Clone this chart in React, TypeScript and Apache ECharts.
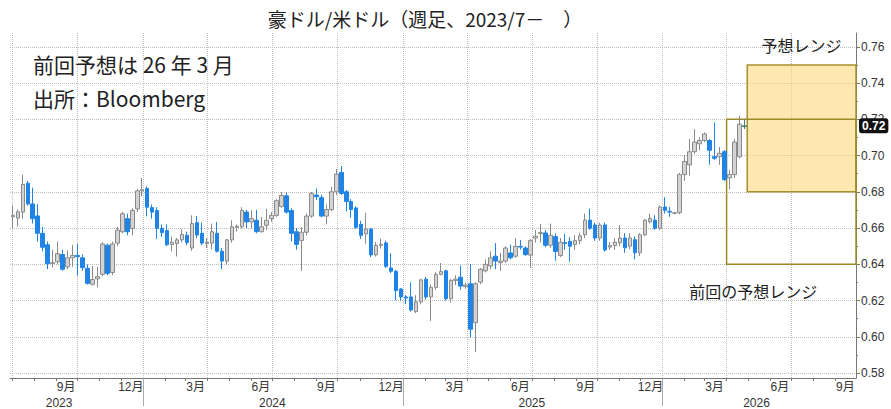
import React, { useEffect, useRef } from "react";
import * as echarts from "echarts";

const TITLE = "豪ドル/米ドル（週足、2023/7－　）";
const NOTE_1 = "前回予想は 26 年 3 月";
const NOTE_2 = "出所：Bloomberg";

// weekly candles, first week ends 2023-06-30
const FIRST_WEEK = Date.UTC(2023, 6, 2);
const WEEK_MS = 7 * 24 * 3600 * 1000;

const opens = [
  0.6662, 0.6655, 0.6688, 0.6847, 0.6733, 0.6667, 0.6571, 0.6508, 0.6404, 0.6414,
  0.6454, 0.6386, 0.6436, 0.6449, 0.6436, 0.6378, 0.629, 0.632, 0.6345, 0.6505,
  0.6355, 0.6517, 0.658, 0.6652, 0.6598, 0.6706, 0.6805, 0.6818, 0.6713, 0.6697,
  0.6598, 0.6586, 0.651, 0.6515, 0.6535, 0.656, 0.649, 0.663, 0.6571, 0.6515,
  0.6517, 0.6571, 0.6472, 0.6418, 0.6535, 0.6604, 0.6607, 0.6688, 0.6634, 0.6643,
  0.658, 0.6616, 0.6652, 0.667, 0.672, 0.6778, 0.6697, 0.658, 0.6532, 0.6577,
  0.6666, 0.6782, 0.6768, 0.6666, 0.6702, 0.68, 0.6907, 0.68, 0.6746, 0.6711,
  0.6621, 0.6568, 0.6595, 0.6452, 0.6505, 0.6518, 0.638, 0.6362, 0.6264, 0.622,
  0.622, 0.6139, 0.6193, 0.6318, 0.622, 0.6273, 0.6345, 0.6364, 0.621, 0.6311,
  0.6329, 0.6278, 0.6293, 0.6078, 0.6302, 0.6364, 0.6391, 0.6445, 0.6409, 0.6418,
  0.6463, 0.6445, 0.6499, 0.649, 0.6451, 0.6545, 0.657, 0.6573, 0.6505, 0.6553,
  0.6449, 0.652, 0.6527, 0.6509, 0.6531, 0.6563, 0.6644, 0.6617, 0.6545, 0.6617,
  0.6495, 0.6504, 0.6518, 0.6545, 0.65, 0.6536, 0.6464, 0.6563, 0.6635, 0.6644,
  0.6599, 0.6716, 0.6692, 0.6682, 0.6685, 0.6895, 0.6949, 0.7021, 0.7065, 0.7083,
  0.7083, 0.6994, 0.6994, 0.7021, 0.6877, 0.6895, 0.6994, 0.716,
];
const closes = [
  0.667, 0.669, 0.6841, 0.6733, 0.6652, 0.6571, 0.6494, 0.6404, 0.6409, 0.6459,
  0.6373, 0.6436, 0.6449, 0.6443, 0.6382, 0.6295, 0.6316, 0.6332, 0.6512, 0.635,
  0.6512, 0.6589, 0.6679, 0.658, 0.6697, 0.6805, 0.6811, 0.6715, 0.6688, 0.6598,
  0.6575, 0.6508, 0.6522, 0.6535, 0.6565, 0.652, 0.6625, 0.6562, 0.6517, 0.6522,
  0.658, 0.6472, 0.6418, 0.6535, 0.6607, 0.661, 0.6697, 0.6634, 0.6652, 0.658,
  0.6607, 0.6643, 0.667, 0.6751, 0.678, 0.6688, 0.6571, 0.651, 0.6577, 0.6666,
  0.6791, 0.6773, 0.6666, 0.6702, 0.68, 0.6898, 0.6791, 0.6746, 0.6702, 0.6604,
  0.656, 0.6595, 0.6452, 0.6505, 0.651, 0.6389, 0.6362, 0.6255, 0.622, 0.6214,
  0.6148, 0.6193, 0.6314, 0.622, 0.6273, 0.6345, 0.636, 0.621, 0.6311, 0.6318,
  0.628, 0.6286, 0.6042, 0.6293, 0.6373, 0.64, 0.6436, 0.6418, 0.6418, 0.649,
  0.6436, 0.6499, 0.6495, 0.6454, 0.6531, 0.6555, 0.6575, 0.6505, 0.656, 0.6471,
  0.6522, 0.6515, 0.65, 0.6531, 0.6558, 0.6644, 0.6599, 0.6545, 0.6617, 0.6479,
  0.6504, 0.6522, 0.6545, 0.6491, 0.6545, 0.6464, 0.6563, 0.6644, 0.6653, 0.6599,
  0.6716, 0.6698, 0.6688, 0.6684, 0.6895, 0.6967, 0.7021, 0.7074, 0.7083, 0.7119,
  0.7029, 0.6985, 0.7012, 0.6868, 0.6895, 0.7074, 0.7173, 0.7164,
];
const lows = [
  0.66, 0.6607, 0.6652, 0.6724, 0.6625, 0.6526, 0.6472, 0.6373, 0.6382, 0.64,
  0.6364, 0.6373, 0.6386, 0.6337, 0.6364, 0.6288, 0.6283, 0.6274, 0.6335, 0.634,
  0.634, 0.65, 0.657, 0.656, 0.656, 0.669, 0.6775, 0.6665, 0.6652, 0.654,
  0.655, 0.65, 0.6472, 0.6443, 0.652, 0.6505, 0.6475, 0.6545, 0.6505, 0.649,
  0.6481, 0.6465, 0.6373, 0.64, 0.652, 0.658, 0.6598, 0.66, 0.6598, 0.6571,
  0.6575, 0.6589, 0.6634, 0.6661, 0.671, 0.668, 0.6526, 0.6481, 0.6363, 0.656,
  0.6657, 0.6755, 0.666, 0.6621, 0.6693, 0.6782, 0.6782, 0.6693, 0.6657, 0.6596,
  0.654, 0.6514, 0.644, 0.6443, 0.6487, 0.638, 0.6352, 0.6202, 0.62, 0.618,
  0.6139, 0.6131, 0.618, 0.6205, 0.6088, 0.626, 0.634, 0.62, 0.619, 0.6285,
  0.626, 0.6265, 0.5997, 0.5916, 0.629, 0.6355, 0.6373, 0.6373, 0.6364, 0.6409,
  0.6427, 0.6436, 0.6481, 0.6445, 0.6379, 0.652, 0.652, 0.6495, 0.649, 0.642,
  0.644, 0.648, 0.6415, 0.648, 0.651, 0.6545, 0.659, 0.653, 0.653, 0.647,
  0.648, 0.648, 0.65, 0.6464, 0.6482, 0.6428, 0.6446, 0.6555, 0.6626, 0.659,
  0.659, 0.668, 0.6662, 0.6676, 0.6676, 0.686, 0.689, 0.701, 0.7029, 0.7074,
  0.6949, 0.6976, 0.6949, 0.6859, 0.6814, 0.6877, 0.6985, 0.7146,
];
const highs = [
  0.6722, 0.6703, 0.6895, 0.6859, 0.6823, 0.6733, 0.6607, 0.6526, 0.6481, 0.6526,
  0.6481, 0.6476, 0.6508, 0.6512, 0.6454, 0.64, 0.6391, 0.6386, 0.6522, 0.6515,
  0.6525, 0.6607, 0.669, 0.668, 0.671, 0.6815, 0.6877, 0.683, 0.673, 0.6715,
  0.662, 0.662, 0.6553, 0.6545, 0.6595, 0.658, 0.667, 0.6667, 0.663, 0.6545,
  0.6625, 0.6634, 0.649, 0.654, 0.6643, 0.662, 0.6715, 0.67, 0.6697, 0.67,
  0.6661, 0.6706, 0.6688, 0.676, 0.6798, 0.6798, 0.671, 0.66, 0.6604, 0.668,
  0.68, 0.6818, 0.6785, 0.673, 0.6827, 0.6925, 0.6943, 0.681, 0.676, 0.672,
  0.664, 0.6684, 0.66, 0.6523, 0.6541, 0.653, 0.6461, 0.637, 0.627, 0.623,
  0.63, 0.623, 0.632, 0.633, 0.629, 0.6357, 0.6407, 0.637, 0.632, 0.634,
  0.6391, 0.63, 0.64, 0.6302, 0.638, 0.6427, 0.6472, 0.6517, 0.6463, 0.6499,
  0.6508, 0.6544, 0.6535, 0.6499, 0.654, 0.659, 0.6622, 0.659, 0.6625, 0.657,
  0.6545, 0.6568, 0.655, 0.656, 0.6575, 0.668, 0.6707, 0.663, 0.663, 0.663,
  0.6525, 0.6545, 0.6617, 0.6572, 0.6572, 0.6554, 0.6572, 0.665, 0.668, 0.6671,
  0.6725, 0.677, 0.6716, 0.669, 0.6904, 0.7003, 0.7092, 0.7146, 0.7101, 0.7128,
  0.7092, 0.7182, 0.7047, 0.703, 0.6922, 0.7092, 0.7218, 0.72,
];

const yTicks = [0.58, 0.6, 0.62, 0.64, 0.66, 0.68, 0.7, 0.72, 0.74, 0.76];
const yMinorTicks = [0.59, 0.61, 0.63, 0.65, 0.67, 0.69, 0.71, 0.73, 0.75];

const day = (y: number, m: number, d: number) => Date.UTC(y, m - 1, d);

const monthLabelMonths: [number, number][] = [
  [2023, 9], [2023, 12], [2024, 3], [2024, 6], [2024, 9], [2024, 12], [2025, 3],
  [2025, 6], [2025, 9], [2025, 12], [2026, 3], [2026, 6], [2026, 9],
];
const quarterStarts: [number, number][] = [
  [2023, 7], [2023, 10], [2024, 1], [2024, 4], [2024, 7], [2024, 10], [2025, 1],
  [2025, 4], [2025, 7], [2025, 10], [2026, 1], [2026, 4], [2026, 7],
];
const yearStarts = [2024, 2025, 2026];
const yearLabelDates: [number, number, number][] = [
  [2023, 9, 5], [2024, 7, 1], [2025, 7, 1], [2026, 5, 13],
];

const forecastRange = [0.68, 0.75];
const previousRange = [0.64, 0.72];
const forecastStart = day(2026, 4, 30);
const previousStart = day(2026, 4, 1);
const rangeEnd = day(2026, 9, 30);

const X_MIN = day(2023, 6, 28);
const X_MAX = day(2026, 9, 30);
const Y_MIN = 0.5773;
const Y_MAX = 0.7676;

const FONT = '"Liberation Sans", "Noto Sans CJK JP", sans-serif';
const JP = '"Noto Sans CJK JP", sans-serif';

export default function App() {
  const ref = useRef<HTMLDivElement>(null);

  useEffect(() => {
    if (!ref.current) return;
    const chart = echarts.init(ref.current, undefined, { renderer: "svg" });

    const monthStarts: number[] = [];
    for (let y = 2023; y <= 2026; y++) {
      for (let m = 1; m <= 12; m++) {
        const t = day(y, m, 1);
        if (t >= X_MIN && t <= X_MAX) monthStarts.push(t);
      }
    }

    const last = opens.length - 1;
    const data = opens.map((o, i) => {
      const item: any = {
        value: [FIRST_WEEK + i * WEEK_MS, o, closes[i], lows[i], highs[i]],
      };
      if (i === last) {
        item.itemStyle = {
          color: "#5f9e94",
          color0: "#5f9e94",
          borderColor: "#3f7f76",
          borderColor0: "#3f7f76",
        };
      }
      return item;
    });

    const gridLine = { type: "dotted", color: "#bdbdbd", width: 1 };
    const xBase = { type: "value", min: X_MIN, max: X_MAX, position: "bottom", scale: true };

    const option: any = {
      animation: false,
      backgroundColor: "#ffffff",
      grid: { left: 10, right: 35, top: 33, bottom: 27, containLabel: false },
      graphic: [
        {
          type: "text",
          x: 425,
          y: 18,
          style: {
            text: TITLE,
            fill: "#222",
            fontSize: 19,
            fontFamily: JP,
            align: "center",
            verticalAlign: "middle",
          },
        },
        {
          type: "text",
          x: 33,
          y: 64,
          style: { text: NOTE_1, fill: "#222", fontSize: 21, fontFamily: JP, verticalAlign: "middle" },
        },
        {
          type: "text",
          x: 33,
          y: 98,
          style: { text: NOTE_2, fill: "#222", fontSize: 21, fontFamily: JP, verticalAlign: "middle" },
        },
      ],
      xAxis: [
        {
          ...xBase,
          axisLine: { show: true, lineStyle: { color: "#777" } },
          axisTick: {
            show: false,
            customValues: quarterStarts.map(([y, m]) => day(y, m, 1)),
          },
          axisLabel: {
            customValues: monthLabelMonths.map(([y, m]) => day(y, m, 15)),
            formatter: (v: number) => new Date(v).getUTCMonth() + 1 + "月",
            margin: 3,
            fontSize: 12,
            color: "#333",
            fontFamily: FONT,
          },
          splitLine: { show: true, lineStyle: gridLine },
        },
        {
          ...xBase,
          axisLine: { show: false },
          axisTick: { show: true, customValues: monthStarts, length: 3, lineStyle: { color: "#777" } },
          axisLabel: { show: false },
          splitLine: { show: false },
        },
        {
          ...xBase,
          axisLine: { show: false },
          axisTick: {
            show: true,
            customValues: yearStarts.map((y) => day(y, 1, 1)),
            length: 28,
            lineStyle: { color: "#aaa" },
          },
          axisLabel: {
            customValues: yearLabelDates.map(([y, m, d]) => day(y, m, d)),
            formatter: (v: number) => String(new Date(v).getUTCFullYear()),
            margin: 19,
            fontSize: 12,
            color: "#333",
            fontFamily: FONT,
          },
          splitLine: { show: false },
        },
      ],
      yAxis: [
        {
          type: "value",
          position: "right",
          min: Y_MIN,
          max: Y_MAX,
          axisLine: { show: true, lineStyle: { color: "#777" } },
          axisTick: { show: true, length: 4, customValues: yTicks, lineStyle: { color: "#777" } },
          axisLabel: {
            customValues: yTicks,
            formatter: (v: number) => v.toFixed(2),
            margin: 5,
            fontSize: 12,
            color: "#333",
            fontFamily: FONT,
          },
          splitLine: { show: true, lineStyle: gridLine },
        },
        {
          type: "value",
          position: "right",
          min: Y_MIN,
          max: Y_MAX,
          axisLine: { show: false },
          axisTick: { show: true, length: 2, customValues: yMinorTicks, lineStyle: { color: "#777" } },
          axisLabel: { show: false },
          splitLine: { show: false },
        },
      ],
      series: [
        {
          type: "candlestick",
          xAxisIndex: 0,
          yAxisIndex: 0,
          encode: { x: 0, y: [1, 2, 3, 4] },
          barWidth: 4,
          itemStyle: {
            color: "#d3d3d3",
            borderColor: "#8a8a8a",
            color0: "#1f84e6",
            borderColor0: "#1f84e6",
            borderWidth: 1,
          },
          data,
          markArea: {
            silent: true,
            data: [
              [
                {
                  name: "予想レンジ",
                  xAxis: forecastStart,
                  yAxis: forecastRange[1],
                  itemStyle: { color: "rgba(251,214,110,0.55)", borderColor: "#a88f30", borderWidth: 1.5 },
                  label: {
                    show: true,
                    position: "top",
                    distance: 11,
                    fontSize: 16,
                    lineHeight: 16,
                    color: "#222",
                    fontFamily: JP,
                  },
                },
                { xAxis: rangeEnd, yAxis: forecastRange[0] },
              ],
              [
                {
                  name: "前回の予想レンジ",
                  xAxis: previousStart,
                  yAxis: previousRange[1],
                  itemStyle: { color: "rgba(0,0,0,0)", borderColor: "#9c8a2a", borderWidth: 1.5 },
                  label: {
                    show: true,
                    position: "bottom",
                    distance: 18,
                    offset: [-38, 0],
                    fontSize: 16,
                    lineHeight: 16,
                    color: "#222",
                    fontFamily: JP,
                  },
                },
                { xAxis: rangeEnd, yAxis: previousRange[0] },
              ],
            ],
          },
          markLine: {
            silent: true,
            precision: 4,
            symbol: ["none", "none"],
            lineStyle: { color: "rgba(0,0,0,0)", width: 0 },
            label: {
              show: true,
              position: "end",
              distance: 3,
              verticalAlign: "middle",
              formatter: (p: any) => Number(p.value).toFixed(2),
              backgroundColor: "#111",
              color: "#fff",
              padding: [2, 3, 1, 3],
              borderRadius: 3,
              fontSize: 12,
              fontWeight: "bold",
              fontFamily: FONT,
            },
            data: [{ yAxis: closes[last] }],
          },
        },
      ],
    };

    chart.setOption(option);
    return () => chart.dispose();
  }, []);

  return (
    <div
      ref={ref}
      style={{ position: "fixed", left: 0, top: 0, width: 891, height: 409, background: "#fff" }}
    />
  );
}
